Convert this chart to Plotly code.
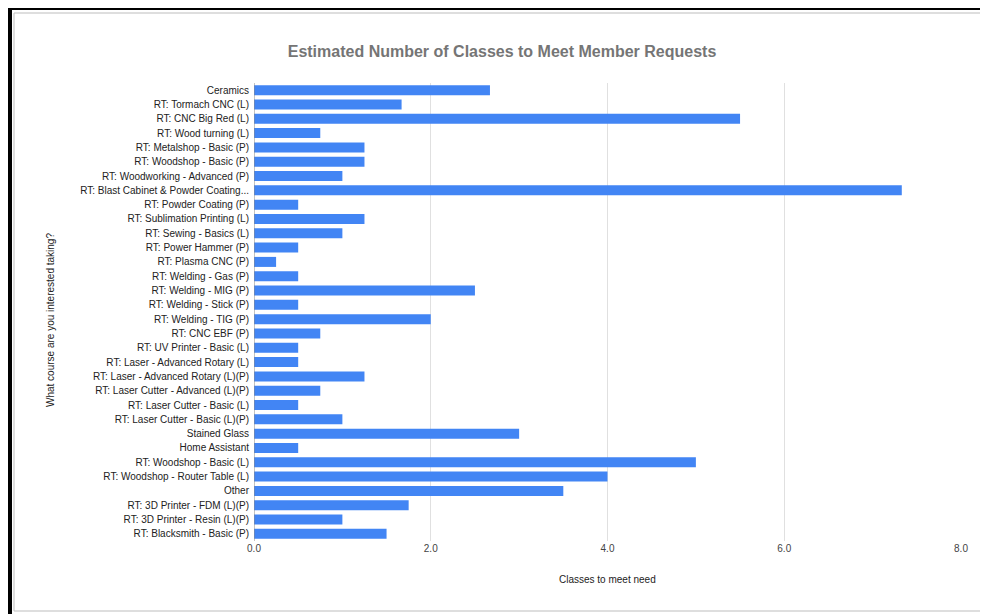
import plotly.graph_objects as go

categories = [
    "Ceramics",
    "RT: Tormach CNC (L)",
    "RT: CNC Big Red (L)",
    "RT: Wood turning (L)",
    "RT: Metalshop - Basic (P)",
    "RT: Woodshop - Basic (P)",
    "RT: Woodworking - Advanced (P)",
    "RT: Blast Cabinet & Powder Coating...",
    "RT: Powder Coating (P)",
    "RT: Sublimation Printing (L)",
    "RT: Sewing - Basics (L)",
    "RT: Power Hammer (P)",
    "RT: Plasma CNC (P)",
    "RT: Welding - Gas (P)",
    "RT: Welding - MIG (P)",
    "RT: Welding - Stick (P)",
    "RT: Welding - TIG (P)",
    "RT: CNC EBF (P)",
    "RT: UV Printer - Basic (L)",
    "RT: Laser - Advanced Rotary (L)",
    "RT: Laser - Advanced Rotary (L)(P)",
    "RT: Laser Cutter - Advanced (L)(P)",
    "RT: Laser Cutter - Basic (L)",
    "RT: Laser Cutter - Basic (L)(P)",
    "Stained Glass",
    "Home Assistant",
    "RT: Woodshop - Basic (L)",
    "RT: Woodshop - Router Table (L)",
    "Other",
    "RT: 3D Printer - FDM (L)(P)",
    "RT: 3D Printer - Resin (L)(P)",
    "RT: Blacksmith - Basic (P)",
]

classes_needed = [
    2.67, 1.67, 5.5, 0.75, 1.25, 1.25, 1.0, 7.33, 0.5, 1.25, 1.0, 0.5,
    0.25, 0.5, 2.5, 0.5, 2.0, 0.75, 0.5, 0.5, 1.25, 0.75, 0.5, 1.0,
    3.0, 0.5, 5.0, 4.0, 3.5, 1.75, 1.0, 1.5,
]

x_ticks = [0, 2, 4, 6, 8]
x_tick_labels = ["0.0", "2.0", "4.0", "6.0", "8.0"]

title_text = "Estimated Number of Classes to Meet Member Requests"
x_title = "Classes to meet need"
y_title = "What course are you interested taking?"

# page body has an 8px margin, so the figure is drawn 8px smaller and
# all reference pixel positions are shifted by -8
OFF = 8
W, H = 988 - OFF, 614 - OFF
L, R, T, B = 254 - OFF, 988 - 961, 83 - OFF, 614 - 541
PW, PH = W - L - R, H - T - B

def px(x):
    return (x - OFF - L) / PW

def py(y):
    return (H - B - (y - OFF)) / PH

FONT = "Liberation Sans, Arial, sans-serif"

fig = go.Figure(
    go.Bar(
        x=classes_needed,
        y=categories,
        orientation="h",
        marker=dict(color="#4285f4", line=dict(width=0)),
    )
)

fig.update_layout(
    width=W,
    height=H,
    margin=dict(l=L, r=R, t=T, b=B, autoexpand=False),
    paper_bgcolor="white",
    plot_bgcolor="white",
    bargap=0.3,
    showlegend=False,
    font=dict(family=FONT, size=10, color="#222222"),
    title=dict(
        text=title_text,
        x=(502 - OFF) / W,
        xanchor="center",
        y=1 - (51 - OFF) / H,
        yanchor="middle",
        font=dict(family=FONT, size=16, color="#757575", weight="bold"),
    ),
)

fig.update_xaxes(
    range=[0, 8],
    tickvals=x_ticks,
    ticktext=x_tick_labels,
    showgrid=True,
    gridcolor="#e0e0e0",
    gridwidth=1,
    zeroline=False,
    showline=False,
    ticks="",
    tickfont=dict(size=10, color="#444444"),
)

fig.update_yaxes(
    autorange="reversed",
    showgrid=False,
    zeroline=False,
    showline=False,
    ticks="",
    ticklabelstandoff=4,
    tickfont=dict(size=10, color="#222222"),
)

shapes = []
# zero baseline
shapes.append(dict(type="line", xref="x", yref="paper", x0=0, x1=0, y0=0, y1=1,
                   line=dict(color="#888888", width=1), layer="above"))
# inner light frame (sheet cell border): left, top, bottom only
frame = dict(color="#bdbdbd", width=1)
shapes.append(dict(type="line", xref="paper", yref="paper",
                   x0=px(14), x1=px(14), y0=py(611), y1=py(13), line=frame))
shapes.append(dict(type="line", xref="paper", yref="paper",
                   x0=px(14), x1=px(988), y0=py(13), y1=py(13), line=frame))
shapes.append(dict(type="line", xref="paper", yref="paper",
                   x0=px(14), x1=px(988), y0=py(611), y1=py(611), line=frame))
# black outer border: left and top
shapes.append(dict(type="rect", xref="paper", yref="paper",
                   x0=px(8), x1=px(12), y0=py(614), y1=py(6),
                   line=dict(width=0), fillcolor="#000000"))
shapes.append(dict(type="rect", xref="paper", yref="paper",
                   x0=px(8), x1=px(988), y0=py(10), y1=py(6),
                   line=dict(width=0), fillcolor="#000000"))
fig.update_layout(shapes=shapes)

fig.add_annotation(
    text=x_title, xref="paper", yref="paper",
    x=px(607), y=py(579), xanchor="center", yanchor="middle",
    showarrow=False, font=dict(family=FONT, size=10, color="#222222"),
)
fig.add_annotation(
    text=y_title, xref="paper", yref="paper",
    x=px(50), y=py(320), xanchor="center", yanchor="middle",
    textangle=-90, showarrow=False,
    font=dict(family=FONT, size=10, color="#222222"),
)

fig.write_html("out.html")
